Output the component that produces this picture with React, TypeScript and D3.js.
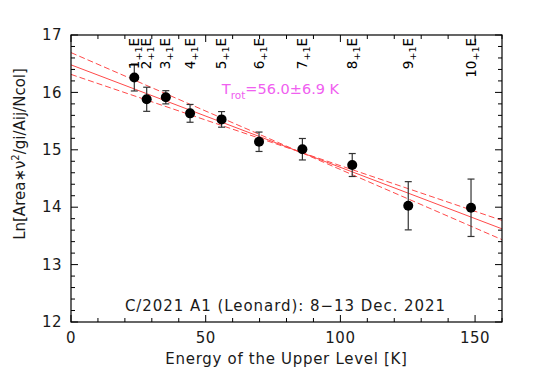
import React, { useEffect, useRef } from 'react';
import * as d3 from 'd3';

// upper-level energies [K], ln values and 1-sigma errors
const energies = [23.5, 28.1, 35.2, 44.2, 55.9, 69.8, 85.9, 104.4, 125.2, 148.5];
const lnValues = [16.26, 15.88, 15.915, 15.635, 15.53, 15.14, 15.01, 14.735, 14.025, 13.99];
const lnErrors = [0.235, 0.21, 0.115, 0.155, 0.136, 0.169, 0.187, 0.2, 0.42, 0.5];
const lineJ = ['1', '2', '3', '4', '5', '6', '7', '8', '9', '10'];
const lineK = '+1';
const lineSym = 'E';

// rotational diagram fit
const fitIntercept = 16.48;
const trot = 56.0;
const trotErr = 6.9;
const pivotEnergy = 85;

const xTicks = [0, 50, 100, 150];
const yTicks = [12, 13, 14, 15, 16, 17];

const FONT = "'DejaVu Sans', sans-serif";
const RED = '#ff4a4a';
const INK = '#1a1a1a';

const App = () => {
  const ref = useRef<SVGSVGElement | null>(null);

  useEffect(() => {
    const width = 538;
    const height = 377;
    const margin = { top: 35, right: 36, bottom: 55, left: 71 };
    const w = width - margin.left - margin.right;
    const h = height - margin.top - margin.bottom;

    const root = d3.select(ref.current);
    root.selectAll('*').remove();

    const x = d3.scaleLinear().domain([0, 160]).range([0, w]);
    const y = d3.scaleLinear().domain([12, 17]).range([h, 0]);

    const svg = root.append('g').attr('transform', `translate(${margin.left},${margin.top})`);

    svg
      .append('defs')
      .append('clipPath')
      .attr('id', 'plot-clip')
      .append('rect')
      .attr('width', w)
      .attr('height', h);

    // best fit plus the two lines for T +/- error, pivoting near the data centre
    const fitLines = [
      { a: fitIntercept, t: trot, dash: null },
      { a: fitIntercept - pivotEnergy / trot + pivotEnergy / (trot - trotErr), t: trot - trotErr, dash: '6,3' },
      { a: fitIntercept - pivotEnergy / trot + pivotEnergy / (trot + trotErr), t: trot + trotErr, dash: '6,3' }
    ];
    fitLines.forEach((f) => {
      const lineGen = d3
        .line<number>()
        .x((e) => x(e))
        .y((e) => y(f.a - e / f.t));
      svg
        .append('path')
        .attr('clip-path', 'url(#plot-clip)')
        .attr('d', lineGen(x.domain()))
        .attr('fill', 'none')
        .attr('stroke', RED)
        .attr('stroke-width', 1)
        .attr('stroke-dasharray', f.dash);
    });

    // error bars
    energies.forEach((e, i) => {
      const cx = x(e);
      const y0 = y(lnValues[i] - lnErrors[i]);
      const y1 = y(lnValues[i] + lnErrors[i]);
      const g = svg.append('g').attr('stroke', '#333').attr('stroke-width', 1.2);
      g.append('line').attr('x1', cx).attr('x2', cx).attr('y1', y0).attr('y2', y1);
      g.append('line').attr('x1', cx - 3.5).attr('x2', cx + 3.5).attr('y1', y0).attr('y2', y0);
      g.append('line').attr('x1', cx - 3.5).attr('x2', cx + 3.5).attr('y1', y1).attr('y2', y1);
    });

    // points
    svg
      .selectAll('circle.pt')
      .data(energies)
      .enter()
      .append('circle')
      .attr('class', 'pt')
      .attr('cx', (e) => x(e))
      .attr('cy', (_, i) => y(lnValues[i]))
      .attr('r', 5)
      .attr('fill', '#000');

    // ticks on all four sides
    const ticks = svg.append('g').attr('stroke', '#000').attr('stroke-width', 1);
    d3.range(0, 161, 10).forEach((v) => {
      const len = v % 50 === 0 ? 7 : 4;
      ticks.append('line').attr('x1', x(v)).attr('x2', x(v)).attr('y1', h).attr('y2', h - len);
      ticks.append('line').attr('x1', x(v)).attr('x2', x(v)).attr('y1', 0).attr('y2', len);
    });
    d3.range(12, 17.001, 0.2).forEach((v) => {
      const major = Math.abs(v - Math.round(v)) < 1e-6;
      const len = major ? 7 : 4;
      ticks.append('line').attr('x1', 0).attr('x2', len).attr('y1', y(v)).attr('y2', y(v));
      ticks.append('line').attr('x1', w).attr('x2', w - len).attr('y1', y(v)).attr('y2', y(v));
    });

    // frame
    svg
      .append('rect')
      .attr('width', w)
      .attr('height', h)
      .attr('fill', 'none')
      .attr('stroke', '#000')
      .attr('stroke-width', 1.2);

    // tick labels
    svg
      .selectAll('text.xt')
      .data(xTicks)
      .enter()
      .append('text')
      .attr('x', (v) => x(v))
      .attr('y', h + 21)
      .attr('text-anchor', 'middle')
      .attr('font-family', FONT)
      .attr('font-size', 15)
      .attr('letter-spacing', 0.5)
      .attr('fill', INK)
      .text((v) => v);
    svg
      .selectAll('text.yt')
      .data(yTicks)
      .enter()
      .append('text')
      .attr('x', -9)
      .attr('y', (v) => y(v))
      .attr('dy', '0.35em')
      .attr('text-anchor', 'end')
      .attr('font-family', FONT)
      .attr('font-size', 15)
      .attr('letter-spacing', 0.5)
      .attr('fill', INK)
      .text((v) => v);

    // axis titles
    svg
      .append('text')
      .attr('x', w / 2)
      .attr('y', h + 42)
      .attr('text-anchor', 'middle')
      .attr('font-family', FONT)
      .attr('font-size', 15)
      .attr('letter-spacing', 0.7)
      .attr('fill', INK)
      .text('Energy of the Upper Level [K]');

    const yl = svg
      .append('text')
      .attr('transform', `translate(${-46},${119}) rotate(-90)`)
      .attr('text-anchor', 'middle')
      .attr('font-family', FONT)
      .attr('font-size', 15)
      .attr('fill', INK);
    yl.append('tspan').text('Ln[Area\u2217\u03bd');
    yl.append('tspan').attr('dy', -6).attr('font-size', 10).text('2');
    yl.append('tspan').attr('dy', 6).text('/gi/Aij/Ncol]');

    // transition labels along the top
    energies.forEach((e, i) => {
      const t = svg
        .append('text')
        .attr('transform', `translate(${x(e) + 4.5},${3}) rotate(-90)`)
        .attr('text-anchor', 'end')
        .attr('font-family', FONT)
        .attr('font-size', 13.5)
        .attr('fill', '#000');
      t.append('tspan').text(lineJ[i]);
      t.append('tspan').attr('dy', 3).attr('font-size', 9.5).text(lineK);
      t.append('tspan').attr('dy', -3).text(lineSym);
    });

    // rotational temperature
    const tr = svg
      .append('text')
      .attr('x', x(56))
      .attr('y', 59)
      .attr('font-family', FONT)
      .attr('font-size', 14.5)
      .attr('fill', '#f060f0');
    tr.append('tspan').text('T');
    tr.append('tspan').attr('dy', 5).attr('font-size', 10.5).text('rot');
    tr.append('tspan').attr('dy', -5).text(`=${trot.toFixed(1)}\u00b1${trotErr.toFixed(1)} K`);

    // comet / date annotation
    svg
      .append('text')
      .attr('x', w / 2 - 1)
      .attr('y', y(12.2))
      .attr('text-anchor', 'middle')
      .attr('font-family', FONT)
      .attr('font-size', 15)
      .attr('letter-spacing', 0.95)
      .attr('fill', INK)
      .text('C/2021 A1 (Leonard): 8\u221213 Dec. 2021');
  }, []);

  return (
    <svg
      ref={ref}
      width={538}
      height={377}
      style={{ position: 'absolute', left: 0, top: 0, background: '#fff' }}
    />
  );
};

export default App;
